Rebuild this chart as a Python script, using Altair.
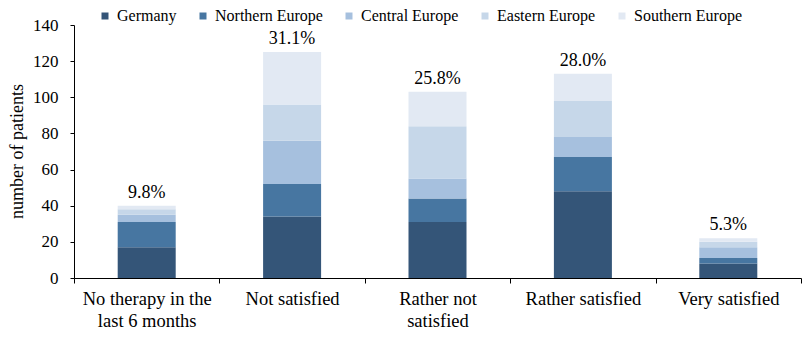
import altair as alt
import pandas as pd

categories = ["No therapy in the|last 6 months", "Not satisfied", "Rather not|satisfied",
              "Rather satisfied", "Very satisfied"]
regions = ["Germany", "Northern Europe", "Central Europe", "Eastern Europe", "Southern Europe"]
colors = ["#345578", "#4776A1", "#A6C0DE", "#C6D7E9", "#E2E9F3"]

germany = [17, 34, 31, 48, 8]
northern = [14, 18, 13, 19, 3]
central = [4, 24, 11, 11, 6]
eastern = [3, 20, 29, 20, 3]
southern = [2, 29, 19, 15, 2]
pct_labels = ["9.8%", "31.1%", "25.8%", "28.0%", "5.3%"]
y_ticks = [0, 20, 40, 60, 80, 100, 120, 140]

series = [germany, northern, central, eastern, southern]
rows = []
for ci, c in enumerate(categories):
    for ri, r in enumerate(regions):
        rows.append({"category": c, "region": r, "idx": ri, "count": series[ri][ci]})
df = pd.DataFrame(rows)
totals = [sum(s[ci] for s in series) for ci in range(len(categories))]
tot = pd.DataFrame({"category": categories, "total": totals, "label": pct_labels})

FONT = "'Liberation Serif', 'Times New Roman', 'DejaVu Serif', serif"
xscale = alt.Scale(domain=categories, paddingInner=0, paddingOuter=0)
yscale = alt.Scale(domain=[0, 140], nice=False)

xaxis = alt.Axis(title=None, labelAngle=0, tickBand="extent",
                 labelExpr="isValid(datum.value) ? split(datum.value, '|') : ''",
                 labelFont=FONT, labelFontSize=18.5, labelLineHeight=22,
                 labelPadding=6, tickSize=5, labelLimit=300, labelColor="black",
                 domainColor="black", tickColor="black", grid=False,
                 labelOverlap=False)
yaxis = alt.Axis(values=y_ticks, title="number of patients", grid=False,
                 labelFont=FONT, labelFontSize=17, labelPadding=12, tickSize=4,
                 labelOverlap=False,
                 labelColor="black", domainColor="black", tickColor="black",
                 titleFont=FONT, titleFontSize=18, titleFontWeight="normal",
                 titleColor="black",
                 titleX=-57, titleY=126, titleAngle=270, titleAlign="center",
                 titleBaseline="middle")

bars = alt.Chart(df).mark_bar(size=58).encode(
    x=alt.X("category:N", scale=xscale, sort=None, axis=xaxis),
    y=alt.Y("count:Q", stack="zero", scale=yscale, axis=yaxis),
    color=alt.Color("region:N", scale=alt.Scale(domain=regions, range=colors),
                    legend=alt.Legend(orient="none", legendX=23, legendY=-17,
                                      direction="horizontal", title=None,
                                      symbolType="square", symbolSize=49,
                                      symbolStrokeWidth=0, labelFont=FONT,
                                      labelFontSize=16,
                                      labelColor="black", columnPadding=18,
                                      labelOffset=4, padding=0)),
    order=alt.Order("idx:Q", sort="ascending"),
)

text = alt.Chart(tot).mark_text(fontSize=18, dy=-13, font=FONT, color="black").encode(
    x=alt.X("category:N", scale=xscale, sort=None, axis=xaxis),
    y=alt.Y("total:Q", scale=yscale, axis=yaxis),
    text="label:N",
)

chart = (bars + text).properties(
    width=727, height=253,
    padding={"left": 74, "top": 25, "right": 10, "bottom": 61},
    autosize=alt.AutoSizeParams(type="none"),
).configure(font=FONT).configure_view(stroke=None)

chart.save("out.html", embed_options={"renderer": "svg", "actions": False})
